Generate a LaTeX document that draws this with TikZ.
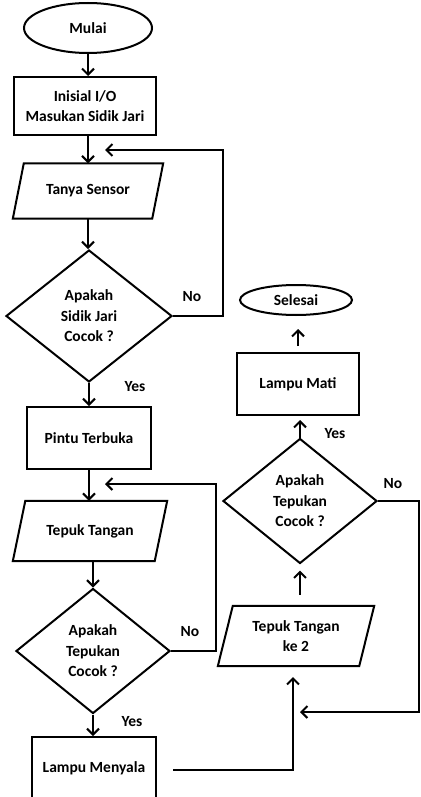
\documentclass[tikz,border=0pt]{standalone}
\usepackage{fontspec}
\setmainfont{Carlito}
\usetikzlibrary{shapes.geometric,arrows.meta}
\newcommand\paraoutline[2]{\draw[line width=2pt] ([xshift=#2pt]#1.north west) -- (#1.north east) -- ([xshift=-#2pt]#1.south east) -- (#1.south west) -- cycle;}
\begin{document}
\begin{tikzpicture}[x=1pt,y=-1pt,
  txt/.style={font=\bfseries\fontsize{15.5}{20.5}\selectfont,align=center,inner sep=0pt,text=black},
  base/.style={txt,draw=black,line width=2pt},
  box/.style={base,rectangle},
  term/.style={base,ellipse},
  dec/.style={base,diamond},
  iobox/.style={txt,rectangle},
  arr/.style={line width=2pt,-{Straight Barb[length=6pt,width=12pt,line width=2pt]}},
  conn/.style={line width=2pt},
  lbl/.style={txt}]
\useasboundingbox (0,0) rectangle (420,797);
% left column
\node[term, minimum width=128pt, minimum height=50pt] (mulai) at (88,28) {Mulai};
\node[box, minimum width=142pt, minimum height=58pt] (init) at (85,106) {Inisial I/O\\Masukan Sidik Jari};
\node[iobox, minimum width=150pt, minimum height=55pt] (tanya) at (88,191) {Tanya Sensor};
\paraoutline{tanya}{11}
\node[dec, minimum width=166pt, minimum height=132pt] (d1) at (89,316) {Apakah\\Sidik Jari\\Cocok ?};
\node[box, minimum width=124pt, minimum height=62pt] (pintu) at (89,438) {Pintu Terbuka};
\node[iobox, minimum width=154pt, minimum height=60pt] (tepuk) at (90,531) {Tepuk Tangan};
\paraoutline{tepuk}{12.5}
\node[dec, minimum width=154pt, minimum height=125pt] (d2) at (93,651) {Apakah\\Tepukan\\Cocok ?};
\node[box, minimum width=124pt, minimum height=62pt] (menyala) at (94,768) {Lampu Menyala};
% right column
\node[term, minimum width=112pt, minimum height=30pt] (selesai) at (296,300) {Selesai};
\node[box, minimum width=122pt, minimum height=62pt] (mati) at (298,384) {Lampu Mati};
\node[dec, minimum width=154pt, minimum height=125pt] (d4) at (300,501) {Apakah\\Tepukan\\Cocok ?};
\node[iobox, minimum width=156pt, minimum height=60pt] (tepuk2) at (296,636) {Tepuk Tangan\\ke 2};
\paraoutline{tepuk2}{15}
% labels
\node[lbl] (no1) at (192,297) {No};
\node[lbl] (yes1) at (135,387) {Yes};
\node[lbl] (no2) at (190,632) {No};
\node[lbl] (yes2) at (132,722) {Yes};
\node[lbl] (yes3) at (335,434) {Yes};
\node[lbl] (no3) at (393,484) {No};
% coordinates
\coordinate (j1) at (105,150);
\coordinate (j2) at (105,484);
\coordinate (j3) at (300,712);
\coordinate (m0) at (173,770);
\coordinate (m1) at (293,677);
% connectors
\draw[arr] (mulai.south) -- (mulai.south |- init.north);
\draw[arr] (tanya.north |- init.south) -- (tanya.north);
\draw[arr] (tanya.south) -- (tanya.south |- d1.north);
\draw[arr] (d1.south) -- (d1.south |- pintu.north);
\draw[arr] (d1.east) -- ++(50,0) |- (j1);
\draw[arr] (pintu.south) -- (pintu.south |- tepuk.north);
\draw[arr] (d2.north |- tepuk.south) -- (d2.north);
\draw[arr] (d2.south) -- (d2.south |- menyala.north);
\draw[arr] (d2.east) -- ++(45,0) |- (j2);
\draw[arr] (m0) -| (m1);
\draw[arr, shorten <=11pt, shorten >=6pt] (d4.south |- tepuk2.north) -- (d4.south);
\draw[arr, shorten >=4pt] (d4.north) -- (d4.north |- mati.south);
\draw[arr, shorten <=6pt, shorten >=13pt] (mati.north) -- (mati.north |- selesai.south);
\draw[arr] (d4.east) -- ++(41,0) |- (j3);
\end{tikzpicture}
\end{document}
